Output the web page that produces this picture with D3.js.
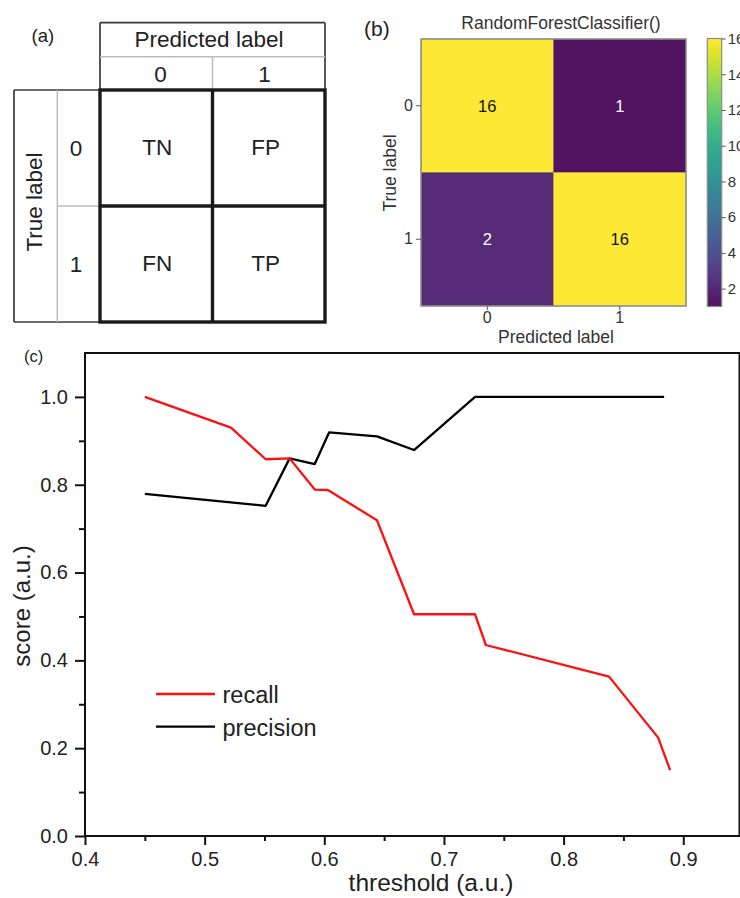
<!DOCTYPE html>
<html>
<head>
<meta charset="utf-8">
<script src="https://cdn.jsdelivr.net/npm/d3@7"></script>
<style>
  html, body { margin: 0; padding: 0; background: #fff; }
  svg { display: block; font-family: "Liberation Sans", Arial, sans-serif; }
</style>
</head>
<body>
<svg id="chart" width="740" height="898"></svg>
<script>
// ---------- data ----------
// panel (a): schematic confusion matrix
const schemPred = ["0", "1"];
const schemTrue = ["0", "1"];
const schemCells = [["TN", "FP"], ["FN", "TP"]];

// panel (b): RandomForestClassifier confusion matrix
const cmTrue = ["0", "1"];
const cmPred = ["0", "1"];
const cmValues = [[16, 1], [2, 16]];
const cbTicks = [2, 4, 6, 8, 10, 12, 14, 16];

// panel (c): recall / precision vs threshold
const recallX = [0.450, 0.522, 0.551, 0.571, 0.592, 0.603, 0.644, 0.675, 0.726, 0.735, 0.838, 0.879, 0.889];
const recallY = [1.000, 0.930, 0.858, 0.860, 0.789, 0.788, 0.719, 0.505, 0.505, 0.435, 0.363, 0.224, 0.150];
const precisionX = [0.450, 0.551, 0.571, 0.592, 0.604, 0.644, 0.675, 0.726, 0.884];
const precisionY = [0.779, 0.752, 0.860, 0.847, 0.919, 0.910, 0.879, 1.000, 1.000];
const xMajor = [0.4, 0.5, 0.6, 0.7, 0.8, 0.9];
const xMinor = [0.45, 0.55, 0.65, 0.75, 0.85];
const yMajor = [0.0, 0.2, 0.4, 0.6, 0.8, 1.0];
const yMinor = [0.1, 0.3, 0.5, 0.7, 0.9];
const seriesNames = ["recall", "precision"];
const seriesColors = ["#ff1010", "#000000"];

const svg = d3.select("#chart");
const txt = "#222";
const FONT = "Liberation Sans, Arial, sans-serif";
// slightly washed viridis, as in the reference picture
const vir = t => d3.interpolateRgb(d3.interpolateViridis(t), "#ffffff")(0.07);

// ================= panel (a) =================
{
  const g = svg.append("g");
  const gx = d3.scaleBand().domain(schemPred).range([100, 325]);
  const gy = d3.scaleBand().domain(schemTrue).range([90, 322]);
  const tx = d3.scalePoint().domain(schemPred).range([100, 325]).padding(0.58);
  const dark = "#3a3a3a", light = "#b9bdc1";

  // header lines
  g.append("line").attr("x1", 100).attr("x2", 325).attr("y1", 22.7).attr("y2", 22.7).attr("stroke", dark).attr("stroke-width", 1.7);
  g.append("line").attr("x1", 100).attr("x2", 100).attr("y1", 22.7).attr("y2", 90).attr("stroke", dark).attr("stroke-width", 1.7);
  g.append("line").attr("x1", 325).attr("x2", 325).attr("y1", 22.7).attr("y2", 90).attr("stroke", dark).attr("stroke-width", 1.7);
  g.append("line").attr("x1", 100).attr("x2", 325).attr("y1", 56.7).attr("y2", 56.7).attr("stroke", light).attr("stroke-width", 1.5);
  g.append("line").attr("x1", gx("1")).attr("x2", gx("1")).attr("y1", 56.7).attr("y2", 90).attr("stroke", light).attr("stroke-width", 1.5);
  // left lines
  g.append("line").attr("x1", 14).attr("x2", 100).attr("y1", 90).attr("y2", 90).attr("stroke", dark).attr("stroke-width", 1.7);
  g.append("line").attr("x1", 14).attr("x2", 100).attr("y1", 322).attr("y2", 322).attr("stroke", dark).attr("stroke-width", 1.7);
  g.append("line").attr("x1", 14).attr("x2", 14).attr("y1", 90).attr("y2", 322).attr("stroke", dark).attr("stroke-width", 1.7);
  g.append("line").attr("x1", 57.3).attr("x2", 57.3).attr("y1", 90).attr("y2", 322).attr("stroke", light).attr("stroke-width", 1.5);
  g.append("line").attr("x1", 57.3).attr("x2", 100).attr("y1", gy("1")).attr("y2", gy("1")).attr("stroke", light).attr("stroke-width", 1.5);

  // thick grid
  g.append("rect").attr("x", 100).attr("y", 90).attr("width", 225).attr("height", 232)
    .attr("fill", "none").attr("stroke", "#1a1a1a").attr("stroke-width", 3.4);
  g.append("line").attr("x1", gx("1")).attr("x2", gx("1")).attr("y1", 90).attr("y2", 322).attr("stroke", "#1a1a1a").attr("stroke-width", 3.4);
  g.append("line").attr("x1", 100).attr("x2", 325).attr("y1", gy("1")).attr("y2", gy("1")).attr("stroke", "#1a1a1a").attr("stroke-width", 3.4);

  const fs = 22.5;
  g.append("text").attr("x", 31.5).attr("y", 41.5).attr("font-size", 18.5).attr("fill", txt).text("(a)");
  g.append("text").attr("x", 209).attr("y", 46.7).attr("text-anchor", "middle").attr("font-size", fs).attr("fill", txt).text("Predicted label");
  g.selectAll(".hdr").data(schemPred).join("text")
    .attr("x", d => tx(d)).attr("y", 81.7).attr("text-anchor", "middle").attr("font-size", fs).attr("fill", txt).text(d => d);
  g.append("text").attr("transform", "translate(42,202) rotate(-90)").attr("text-anchor", "middle")
    .attr("font-size", fs).attr("fill", txt).text("True label");
  g.selectAll(".rowl").data(schemTrue).join("text")
    .attr("x", 76).attr("y", d => gy(d) + gy.bandwidth() / 2).attr("dy", "0.36em")
    .attr("text-anchor", "middle").attr("font-size", fs).attr("fill", txt).text(d => d);
  schemCells.forEach((row, i) => {
    g.selectAll(".cell" + i).data(row).join("text")
      .attr("x", (d, j) => (tx(schemPred[j]) + gx(schemPred[j]) + gx.bandwidth() / 2) / 2 - 1)
      .attr("y", gy(schemTrue[i]) + gy.bandwidth() / 2).attr("dy", "0.3em")
      .attr("text-anchor", "middle").attr("font-size", fs).attr("fill", txt).text(d => d);
  });
}

// ================= panel (b) =================
{
  const g = svg.append("g");
  const bx = d3.scaleBand().domain(cmPred).range([421, 686]);
  const by = d3.scaleBand().domain(cmTrue).range([39, 306]);
  const color = d3.scaleSequential(vir).domain([1, 16]);
  const cells = [];
  cmValues.forEach((row, i) => row.forEach((v, j) => cells.push({ t: cmTrue[i], p: cmPred[j], v })));

  g.selectAll("rect.cell").data(cells).join("rect").attr("class", "cell")
    .attr("x", d => bx(d.p)).attr("y", d => by(d.t))
    .attr("width", bx.bandwidth()).attr("height", by.bandwidth())
    .attr("fill", d => color(d.v)).attr("stroke", "#8a7f4a").attr("stroke-width", 0.6).attr("stroke-opacity", 0.6);
  g.append("rect").attr("x", 421).attr("y", 39).attr("width", 265).attr("height", 267)
    .attr("fill", "none").attr("stroke", "#8c8c8c").attr("stroke-width", 1.5);
  g.selectAll("text.val").data(cells).join("text").attr("class", "val")
    .attr("x", d => bx(d.p) + bx.bandwidth() / 2).attr("y", d => by(d.t) + by.bandwidth() / 2)
    .attr("dy", "0.36em").attr("text-anchor", "middle").attr("font-size", 16.5)
    .attr("fill", d => d.v > 8.5 ? "#111" : "#fff").text(d => d.v);

  const ay = g.append("g").attr("transform", "translate(421,0)")
    .call(d3.axisLeft(by).tickSize(5).tickPadding(3));
  const ax = g.append("g").attr("transform", "translate(0,306)")
    .call(d3.axisBottom(bx).tickSize(4).tickPadding(2));
  [ay, ax].forEach(a => {
    a.attr("font-size", 16).attr("font-family", FONT);
    a.select(".domain").remove();
    a.selectAll("line").attr("stroke", "#555");
    a.selectAll("text").attr("fill", "#333");
  });

  g.append("text").attr("x", 561).attr("y", 29).attr("text-anchor", "middle").attr("font-size", 17.5).attr("fill", "#333").text("RandomForestClassifier()");
  g.append("text").attr("x", 364).attr("y", 36).attr("font-size", 21).attr("fill", txt).text("(b)");
  g.append("text").attr("transform", "translate(395.5,173) rotate(-90)").attr("text-anchor", "middle")
    .attr("font-size", 17.5).attr("fill", "#333").text("True label");
  g.append("text").attr("x", 556).attr("y", 343).attr("text-anchor", "middle").attr("font-size", 17.5).attr("fill", "#333").text("Predicted label");

  // colorbar
  const cb = d3.scaleLinear().domain([1, 16]).range([306.5, 38.5]);
  const defs = svg.append("defs");
  const grad = defs.append("linearGradient").attr("id", "vir").attr("x1", 0).attr("x2", 0).attr("y1", 1).attr("y2", 0);
  d3.range(0, 1.0001, 0.05).forEach(t => grad.append("stop").attr("offset", t).attr("stop-color", vir(t)));
  g.append("rect").attr("x", 707.3).attr("y", cb(16)).attr("width", 14.4).attr("height", cb(1) - cb(16))
    .attr("fill", "url(#vir)").attr("stroke", "#8c8c8c").attr("stroke-width", 1.2);
  const ac = g.append("g").attr("transform", "translate(721.7,0)")
    .call(d3.axisRight(cb).tickValues(cbTicks).tickSize(4).tickPadding(2));
  ac.attr("font-size", 15).attr("font-family", FONT);
  ac.select(".domain").remove();
  ac.selectAll("line").attr("stroke", "#555");
  ac.selectAll("text").attr("fill", "#333");
}

// ================= panel (c) =================
{
  const g = svg.append("g");
  const x = d3.scaleLinear().domain([0.4, 0.947]).range([85, 739.5]);
  const y = d3.scaleLinear().domain([0, 1.1]).range([836, 353]);

  const yAx = g.append("g").attr("transform", "translate(85,0)")
    .call(d3.axisLeft(y).tickValues(yMajor).tickFormat(d3.format(".1f")).tickSize(10).tickPadding(7));
  const yAxm = g.append("g").attr("transform", "translate(85,0)")
    .call(d3.axisLeft(y).tickValues(yMinor).tickFormat("").tickSize(6));
  const xAx = g.append("g").attr("transform", "translate(0,836)")
    .call(d3.axisBottom(x).tickValues(xMajor).tickFormat(d3.format(".1f")).tickSize(9).tickPadding(7));
  const xAxm = g.append("g").attr("transform", "translate(0,836)")
    .call(d3.axisBottom(x).tickValues(xMinor).tickFormat("").tickSize(5));
  [yAx, yAxm, xAx, xAxm].forEach(a => {
    a.attr("font-size", 20).attr("font-family", FONT);
    a.select(".domain").remove();
    a.selectAll("line").attr("stroke", "#111").attr("stroke-width", 2);
    a.selectAll("text").attr("fill", txt);
  });

  // frame
  g.append("rect").attr("x", 85).attr("y", 353).attr("width", 739.5 - 85).attr("height", 836 - 353)
    .attr("fill", "none").attr("stroke", "#111").attr("stroke-width", 2);

  const line = d3.line().x(d => x(d[0])).y(d => y(d[1]));
  const rec = recallX.map((v, i) => [v, recallY[i]]);
  const pre = precisionX.map((v, i) => [v, precisionY[i]]);
  g.append("path").datum(pre).attr("d", line).attr("fill", "none").attr("stroke", seriesColors[1]).attr("stroke-width", 2.3).attr("stroke-linejoin", "round");
  g.append("path").datum(rec).attr("d", line).attr("fill", "none").attr("stroke", seriesColors[0]).attr("stroke-width", 2.3).attr("stroke-linejoin", "round");

  // legend
  const lg = g.append("g");
  seriesNames.forEach((n, i) => {
    const yy = 694 + i * 32.7;
    lg.append("line").attr("x1", 156).attr("x2", 215).attr("y1", yy).attr("y2", yy)
      .attr("stroke", seriesColors[i]).attr("stroke-width", 2.3);
    lg.append("text").attr("x", 222.5).attr("y", yy + 9).attr("font-size", 23.5).attr("fill", txt).text(n);
  });

  g.append("text").attr("x", 24).attr("y", 362).attr("font-size", 16.5).attr("fill", txt).text("(c)");
  g.append("text").attr("x", 431).attr("y", 891).attr("text-anchor", "middle").attr("font-size", 24.5).attr("fill", txt).text("threshold (a.u.)");
  g.append("text").attr("transform", "translate(30,606) rotate(-90)").attr("text-anchor", "middle")
    .attr("font-size", 24).attr("fill", txt).text("score (a.u.)");
}
</script>
</body>
</html>
